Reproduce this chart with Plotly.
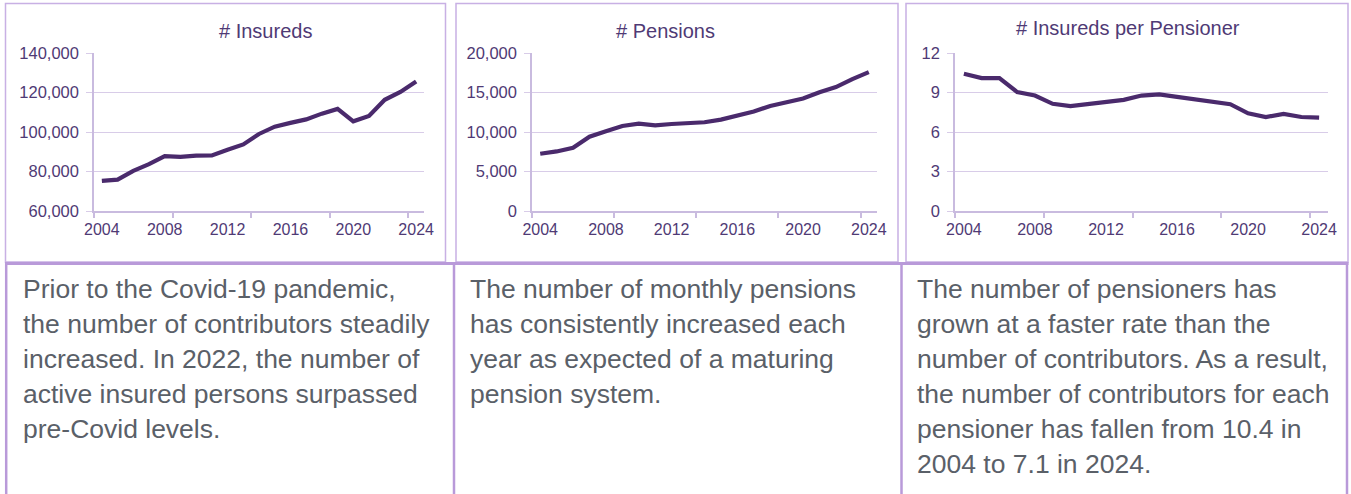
import plotly.graph_objects as go

W, H = 1351, 494

years = list(range(2004, 2025))
insureds = [75250, 75900, 80300, 83700, 87800, 87400, 88000, 88100, 91000, 93700,
            99000, 102700, 104600, 106400, 109300, 111700, 105400, 108100, 116300, 120300, 125600]
pensions = [7250, 7540, 8010, 9410, 10080, 10760, 11060, 10850, 11010, 11100,
            11230, 11570, 12080, 12590, 13300, 13810, 14240, 15040, 15680, 16690, 17580]
ratio = [10.42, 10.09, 10.10, 9.03, 8.77, 8.14, 7.96, 8.11, 8.24, 8.44,
         8.77, 8.85, 8.67, 8.49, 8.29, 8.11, 7.42, 7.14, 7.37, 7.14, 7.09]

titles = ["# Insureds", "# Pensions", "# Insureds per Pensioner"]
xtick_years = [2004, 2008, 2012, 2016, 2020, 2024]

col_texts = [
    ["Prior to the Covid-19 pandemic,", "the number of contributors steadily",
     "increased. In 2022, the number of", "active insured persons surpassed", "pre-Covid levels."],
    ["The number of monthly pensions", "has consistently increased each",
     "year as expected of a maturing", "pension system."],
    ["The number of pensioners has", "grown at a faster rate than the",
     "number of contributors. As a result,", "the number of contributors for each",
     "pensioner has fallen from 10.4 in", "2004 to 7.1 in 2024."],
]

LINE = "#4a2a6c"
TICKC = "#4f3a75"
GRID = "#d8cce8"
AXIS = "#c9bbdf"
BORDER_LIGHT = "#c8b0e4"
BORDER = "#b99ad9"
TEXTC = "#5a6068"
FONT = "Liberation Sans, Arial, sans-serif"

def px(x):
    return x / W

def py(y):
    return 1 - y / H

fig = go.Figure()
series = [insureds, pensions, ratio]
xdoms = [(94, 424), (532, 877), (955, 1328)]
yranges = [[60000, 140000], [0, 20000], [0, 12]]
ydticks = [20000, 5000, 3]
yfmts = [",", ",", ""]

for i in range(3):
    sfx = "" if i == 0 else str(i + 1)
    fig.add_trace(go.Scatter(x=years, y=series[i], mode="lines",
                             line=dict(color=LINE, width=4.2),
                             xaxis="x" + sfx, yaxis="y" + sfx, showlegend=False,
                             hoverinfo="skip"))
    fig.layout["xaxis" + sfx] = dict(
        domain=[px(xdoms[i][0]), px(xdoms[i][1])], anchor="y" + sfx,
        range=[2003.5, 2024.5], tickmode="array", tickvals=xtick_years,
        ticks="", showgrid=False, showline=True, linecolor=AXIS, linewidth=1.5,
        tickfont=dict(family=FONT, size=16, color=TICKC), ticklabelstandoff=3,
        zeroline=False, automargin=False,
        minor=dict(tickmode="linear", tick0=2003.5, dtick=5, ticks="outside",
                   ticklen=5, tickcolor=AXIS, tickwidth=1.5, showgrid=False),
    )
    fig.layout["yaxis" + sfx] = dict(
        domain=[py(211), py(53)], anchor="x" + sfx,
        range=yranges[i], dtick=ydticks[i], tickformat=yfmts[i],
        showgrid=True, gridcolor=GRID, gridwidth=1.2,
        showline=True, linecolor=AXIS, linewidth=1.5,
        ticks="outside", ticklen=6, tickcolor=GRID,
        tickfont=dict(family=FONT, size=16.5, color=TICKC), ticklabelstandoff=4,
        zeroline=False, automargin=False,
    )

title_pos = [(265, 31), (665, 31), (1128, 28)]
for t, (x, y) in zip(titles, title_pos):
    fig.add_annotation(text=t, x=px(x), y=py(y), xref="paper", yref="paper",
                       xanchor="center", yanchor="middle", showarrow=False,
                       font=dict(family=FONT, size=20, color=TICKC))

col_x = [21, 468, 915]
for cx, lines in zip(col_x, col_texts):
    for k, ln in enumerate(lines):
        yc = 289 + 35 * k
        fig.add_annotation(text=ln, x=px(cx), y=py(yc), xref="paper", yref="paper",
                           xanchor="left", yanchor="middle", showarrow=False,
                           font=dict(family=FONT, size=26.5, color=TEXTC))

shapes = []
for (x0, x1) in [(5.5, 445.5), (456, 898), (906, 1348)]:
    shapes.append(dict(type="rect", xref="paper", yref="paper",
                       x0=px(x0), x1=px(x1), y0=py(262), y1=py(3.5),
                       line=dict(color=BORDER_LIGHT, width=1.5)))
shapes.append(dict(type="line", xref="paper", yref="paper",
                   x0=px(5), x1=px(1348.5), y0=py(263.5), y1=py(263.5),
                   line=dict(color=BORDER, width=3)))
for vx in [6.2, 454, 901.5, 1347]:
    shapes.append(dict(type="line", xref="paper", yref="paper",
                       x0=px(vx), x1=px(vx), y0=py(262), y1=py(494),
                       line=dict(color=BORDER, width=2.5)))
fig.update_layout(shapes=shapes)

fig.update_layout(width=W, height=H, margin=dict(l=0, r=0, t=0, b=0, pad=0),
                  paper_bgcolor="white", plot_bgcolor="white", showlegend=False)

fig.write_html("out.html",
               post_script="document.body.style.margin='0px';document.body.style.overflow='hidden';")
